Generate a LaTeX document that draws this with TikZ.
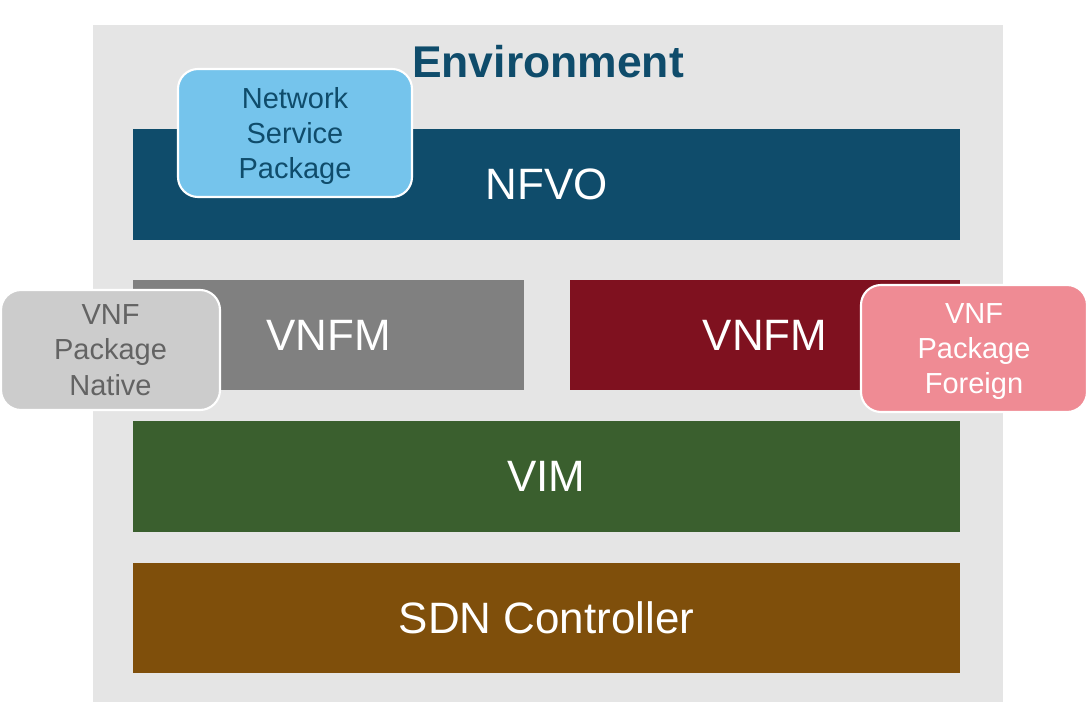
\documentclass[tikz,border=0pt]{standalone}
\usepackage{fontspec}
\setmainfont{Liberation Sans}

\definecolor{envblue}{HTML}{0F4C6B}
\definecolor{envgray}{HTML}{E5E5E5}
\definecolor{nspblue}{HTML}{75C4EC}
\definecolor{vnfmgray}{HTML}{808080}
\definecolor{vnfmred}{HTML}{7F111F}
\definecolor{natgray}{HTML}{CCCCCC}
\definecolor{nattext}{HTML}{636363}
\definecolor{forpink}{HTML}{EF8B94}
\definecolor{vimgreen}{HTML}{3A5F2E}
\definecolor{sdnbrown}{HTML}{7F4F0B}

\tikzset{
    layer/.style={rectangle, inner sep=0pt, text=white,
        font=\fontsize{25}{30}\selectfont},
    pkg/.style={rectangle, rounded corners=0.4cm, draw=white, line width=1.2pt,
        inner sep=0pt, align=center, text depth=0pt, font=\fontsize{16.5}{20}\selectfont}
}

\begin{document}
\begin{tikzpicture}
    \useasboundingbox (0,0) rectangle (21.84,14.42);

    % Draw the environment background
    \node[rectangle, fill=envgray, minimum width=18.2cm, minimum height=13.54cm] (env) at (10.96,7.15) {};
    \node[anchor=base, text=envblue, font=\fontsize{25.3}{30}\selectfont\bfseries] (title) at (10.96,12.86) {Environment};

    % Draw the layers
    \node[layer, fill=envblue, minimum width=16.54cm, minimum height=2.22cm] (nfvo) at (10.93,10.73) {NFVO};
    \node[layer, fill=vnfmgray, minimum width=7.82cm, minimum height=2.2cm] (vnfmA) at (6.57,7.72) {VNFM};
    \node[layer, fill=vnfmred, minimum width=7.8cm, minimum height=2.2cm] (vnfmB) at (15.3,7.72) {VNFM};
    \node[layer, fill=vimgreen, minimum width=16.54cm, minimum height=2.22cm] (vim) at (10.93,4.89) {VIM};
    \node[layer, fill=sdnbrown, minimum width=16.54cm, minimum height=2.2cm] (sdn) at (10.93,2.06) {SDN Controller};

    % Draw the packages
    \node[pkg, fill=nspblue, text=envblue, minimum width=4.68cm, minimum height=2.56cm] (nsp) at (5.9,11.76) {Network\\Service\\Package};
    \node[pkg, fill=natgray, text=nattext, minimum width=4.38cm, minimum height=2.4cm] (native) at (2.21,7.42) {VNF\\Package\\Native};
    \node[pkg, fill=forpink, text=white, minimum width=4.52cm, minimum height=2.54cm] (foreign) at (19.48,7.45) {VNF\\Package\\Foreign};
\end{tikzpicture}
\end{document}
